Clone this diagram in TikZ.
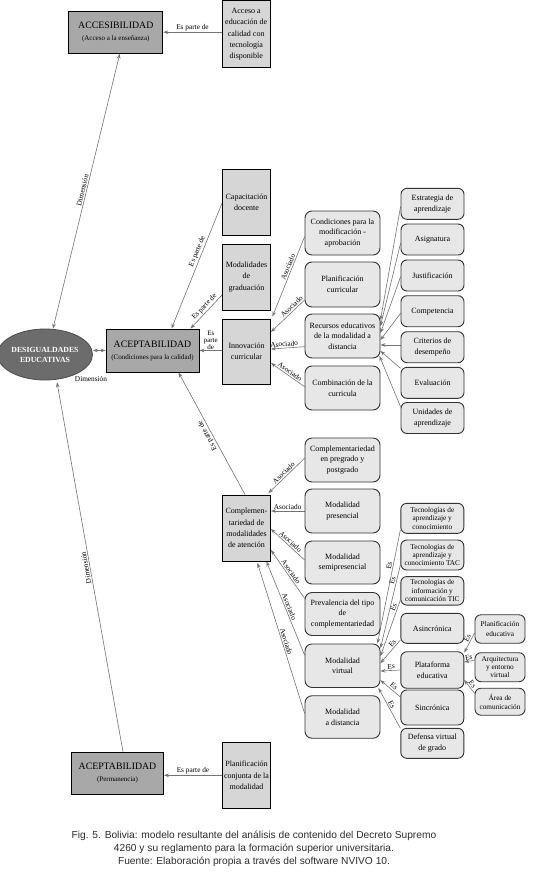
\documentclass[tikz,border=0pt]{standalone}
\usepackage{fontspec}
\setmainfont{Liberation Serif}
\newfontfamily\capfont{Liberation Sans}
\usetikzlibrary{arrows.meta,shapes.geometric,backgrounds}
\definecolor{darkbox}{HTML}{A8A8A8}
\definecolor{lightbox}{HTML}{D6D6D6}
\definecolor{roundbox}{HTML}{E7E7E7}
\definecolor{ellfill}{HTML}{6C6C6C}
\definecolor{linecol}{HTML}{747474}
\definecolor{capcol}{HTML}{2E2E2E}
\tikzset{
  sz/.style 2 args={minimum width=#1pt, minimum height=#2pt},
  dbox/.style={draw=black, line width=0.9pt, fill=darkbox, inner sep=0pt, align=center},
  lbox/.style={draw=black, line width=0.9pt, fill=lightbox, inner sep=0pt, align=center, font=\fontsize{8}{11.2}\selectfont},
  rbox/.style={draw=black!80, line width=0.9pt, fill=roundbox, rounded corners=7pt, inner sep=0pt, align=center, font=\fontsize{8}{10.6}\selectfont},
  sbox/.style={draw=black!80, line width=0.9pt, fill=roundbox, rounded corners=6pt, inner sep=0pt, align=center, font=\fontsize{7.3}{8.4}\selectfont},
  arr/.style={draw=linecol, line width=0.6pt, -{Stealth[length=5pt,width=3.6pt]}},
  darr/.style={draw=linecol, line width=0.6pt, {Stealth[length=5pt,width=3.6pt]}-{Stealth[length=5pt,width=3.6pt]}},
  lab/.style={font=\fontsize{7.3}{7.5}\selectfont, sloped, above, inner sep=1.2pt},
}
\newcommand{\bigt}[1]{{\fontsize{9.8}{12}\selectfont #1}}
\newcommand{\subt}[1]{{\fontsize{7}{8.5}\selectfont #1}}
\begin{document}
\begin{tikzpicture}[x=1pt,y=-1pt]
\useasboundingbox (0,0) rectangle (546,873);
% top
\node[dbox, sz={94}{42}] (acc) at (115.8,32.2) {\bigt{ACCESIBILIDAD}\\\subt{(Acceso a la enseñanza)}};
\node[lbox, sz={48}{67}] (accsrc) at (246.2,34.3) {Acceso a\\educación de\\calidad con\\tecnología\\disponible};
% centre
\node[ellipse, draw=black!70, fill=ellfill, line width=0.8pt, sz={80}{51}, inner sep=0pt, align=center, text=white, font=\bfseries\fontsize{7.8}{10}\selectfont] (desig) at (45,354.5) {DESIGUALDADES\\EDUCATIVAS};
\node[dbox, sz={93}{43}] (acep) at (152.5,350.5) {\bigt{ACEPTABILIDAD}\\\subt{(Condiciones para la calidad)}};
\node[font=\fontsize{7.3}{7.5}\selectfont, inner sep=0pt] (dimlab) at (91,378.5) {Dimensión};
\node[lbox, sz={48}{66}] (cap) at (246.5,202) {Capacitación\\docente};
\node[lbox, sz={48}{66}] (modgrad) at (246.5,277) {Modalidades\\de\\graduación};
\node[lbox, sz={48}{65}] (innov) at (246.5,351.5) {Innovación\\curricular};
% column 1 upper
\node[rbox, sz={75}{44}] (cond) at (342.5,233) {Condiciones para la\\modificación -\\aprobación};
\node[rbox, sz={75}{45}] (planc) at (342.5,284.5) {Planificación\\curricular};
\node[rbox, sz={75}{44}] (recur) at (342.5,336) {Recursos educativos\\de la modalidad a\\distancia};
\node[rbox, sz={75}{44}] (comb) at (342.5,388) {Combinación de la\\curricula};
% column 2 upper
\node[rbox, rounded corners=6pt, sz={63}{31}] (estr) at (432.5,203.8) {Estrategia de\\aprendizaje};
\node[rbox, rounded corners=6pt, sz={63}{31}] (asig) at (432.5,239.5) {Asignatura};
\node[rbox, rounded corners=6pt, sz={63}{31}] (just) at (432.5,275.5) {Justificación};
\node[rbox, rounded corners=6pt, sz={63}{31}] (comp) at (432.5,311.2) {Competencia};
\node[rbox, rounded corners=6pt, sz={63}{31}] (crit) at (432.5,347.2) {Criterios de\\desempeño};
\node[rbox, rounded corners=6pt, sz={63}{31}] (eval) at (432.5,382.8) {Evaluación};
\node[rbox, rounded corners=6pt, sz={63}{31}] (unid) at (432.5,418) {Unidades de\\aprendizaje};
% lower
\node[lbox, sz={48}{66}] (comple) at (246.5,528) {Complemen-\\tariedad de\\modalidades\\de atención};
\node[rbox, sz={75}{44}] (preg) at (342.5,460) {Complementariedad\\en pregrado y\\postgrado};
\node[rbox, sz={75}{44}] (presen) at (342.5,511) {Modalidad\\presencial};
\node[rbox, sz={75}{43}] (semi) at (342.5,562.5) {Modalidad\\semipresencial};
\node[rbox, sz={75}{43}] (preval) at (342.5,614) {Prevalencia del tipo\\de\\complementariedad};
\node[rbox, sz={75}{43.5}] (mvirt) at (342.5,665.7) {Modalidad\\virtual};
\node[rbox, sz={75}{42.5}] (mdist) at (342.5,717) {Modalidad\\a distancia};
% column 2 lower
\node[sbox, sz={63}{30}] (tac1) at (432.3,518.3) {Tecnologías de\\aprendizaje y\\conocimiento};
\node[sbox, sz={63}{30}] (tac2) at (432.3,555) {Tecnologías de\\aprendizaje y\\conocimiento TAC};
\node[sbox, sz={63}{28.5}] (tic) at (432.3,590.8) {Tecnologías de\\información y\\comunicación TIC};
\node[rbox, rounded corners=6pt, sz={63}{30}] (asinc) at (432.3,628.3) {Asincrónica};
\node[rbox, rounded corners=6pt, sz={63}{36.5}] (plat) at (432.3,670) {Plataforma\\educativa};
\node[rbox, rounded corners=6pt, sz={63}{35}] (sinc) at (432.3,707.5) {Sincrónica};
\node[rbox, rounded corners=6pt, sz={63}{30}] (def) at (432.3,743.3) {Defensa virtual\\de grado};
% column 3
\node[sbox, font=\fontsize{7.3}{10.5}\selectfont, sz={50}{28.5}] (planed) at (500,629) {Planificación\\educativa};
\node[sbox, sz={50}{29}] (arq) at (500,667.2) {Arquitectura\\y entorno\\virtual};
\node[sbox, font=\fontsize{7.3}{9.6}\selectfont, sz={50}{27}] (area) at (500,701.7) {Área de\\comunicación};
% bottom
\node[dbox, sz={92}{42}] (acepperm) at (117.5,773.2) {\bigt{ACEPTABILIDAD}\\\subt{(Permanencia)}};
\node[lbox, sz={48}{66}] (planconj) at (246.5,775.3) {Planificación\\conjunta de la\\modalidad};
% caption
\node[font=\capfont\fontsize{10.2}{13}\selectfont, text=capcol, align=center, inner sep=0pt] (caption) at (254,848.5) {Fig. 5. Bolivia: modelo resultante del análisis de contenido del Decreto Supremo\\4260 y su reglamento para la formación superior universitaria.\\Fuente: Elaboración propia a través del software NVIVO 10.};

\begin{pgfonlayer}{background}
\fill[white] (0,0) rectangle (546,873);
\draw[arr] (acc.east -| accsrc.west) -- node[lab]{Es parte de} (acc.east);
\draw[darr] ([xshift=8pt]desig.north) -- node[lab]{Dimensión} ([xshift=4pt]acc.south);
\draw[darr] (desig.east |- acep.west) -- (acep.west);
\draw[arr] ([yshift=-1pt]cap.west) -- node[lab,pos=0.4]{Es parte de} ([xshift=19pt]acep.north);
\draw[arr] ([yshift=-18pt]modgrad.west) -- node[lab,pos=0.45]{Es parte de} ([xshift=38pt]acep.north);
\draw[arr] (innov.west |- acep.east) -- node[above, font=\fontsize{7}{6.6}\selectfont, align=center, inner sep=1pt]{Es\\parte\\de} (acep.east);
\draw[arr] ([yshift=-3.7pt]cond.west) -- node[lab,pos=0.4]{Asociado} ([xshift=1.5pt,yshift=2pt]innov.north east);
\draw[arr] ([yshift=-15.5pt]planc.west) -- node[lab,pos=0.3]{Asociado} ([yshift=19.5pt]innov.east);
\draw[arr] ([yshift=-10.7pt]recur.west) -- node[lab,pos=0.6]{Asociado} ([yshift=2.5pt]innov.east);
\draw[arr] ([yshift=1.3pt]comb.west) -- node[lab,pos=0.5]{Asociado} ([yshift=-11.5pt]innov.east);
% column 2 upper to recursos
\draw[arr] ([yshift=-2.9pt]estr.west) -- ([yshift=16pt]recur.east);
\draw[arr] ([yshift=-3.8pt]asig.west) -- ([yshift=10pt]recur.east);
\draw[arr] ([yshift=-1.2pt]just.west) -- ([yshift=3pt]recur.east);
\draw[arr] ([yshift=-2.1pt]comp.west) -- ([yshift=-4pt]recur.east);
\draw[arr] ([yshift=2.2pt]crit.west) -- ([yshift=-9pt]recur.east);
\draw[arr] ([yshift=14.5pt]eval.west) -- ([yshift=-15pt]recur.east);
\draw[arr] ([yshift=11.3pt]unid.west) -- ([xshift=-1pt,yshift=-20pt]recur.east);
% lower
\draw[arr] ([xshift=-1.5pt]comple.north) -- node[lab,pos=0.5,allow upside down]{Es parte de} ([xshift=26pt]acep.south);
\draw[arr] ([yshift=1.7pt]preg.west) -- node[lab,pos=0.5]{Asociado} ([xshift=-2.5pt,yshift=1.5pt]comple.north east);
\draw[arr] (presen.west) -- node[lab,pos=0.5]{Asociado} (presen.west -| comple.east);
\draw[arr] ([yshift=2.5pt]semi.west) -- node[lab,pos=0.5]{Asociado} ([yshift=-1pt]comple.east);
\draw[arr] ([yshift=15.7pt]preval.west) -- node[lab,pos=0.5]{Asociado} ([yshift=-22pt]comple.east);
\draw[arr] ([yshift=10.7pt]mvirt.west) -- node[lab,pos=0.5]{Asociado} ([xshift=-4.5pt]comple.south east);
\draw[arr] ([yshift=3.7pt]mdist.west) -- node[lab,pos=0.47]{Asociado} ([xshift=-13.5pt,yshift=-1.5pt]comple.south east);
% column 2 lower to virtual
\draw[arr] ([yshift=-11.7pt]tac1.west) -- node[lab,pos=0.32]{Es} ([xshift=-3pt]mvirt.north east);
\draw[arr] ([yshift=-10pt]tac2.west) -- node[lab,pos=0.2]{Es} ([yshift=17.5pt]mvirt.east);
\draw[arr] ([yshift=-9.2pt]tic.west) -- node[lab,pos=0.15]{Es} ([yshift=9.5pt]mvirt.east);
\draw[arr] ([yshift=-11.7pt]asinc.west) -- node[lab,pos=0.25]{Es} ([yshift=2.5pt]mvirt.east);
\draw[arr] (plat.west) -- node[lab,pos=0.45]{Es} ([yshift=-5.3pt]mvirt.east);
\draw[arr] ([yshift=10.5pt]sinc.west) -- node[lab,pos=0.45]{Es} ([yshift=-14.5pt]mvirt.east);
\draw[arr] ([yshift=15pt]def.west) -- node[lab,pos=0.55]{Es} ([xshift=-2pt]mvirt.south east);
% column 3 to plataforma
\draw[arr] ([yshift=-4pt]planed.west) -- node[lab,pos=0.35]{Es} ([yshift=-1.3pt]plat.north east);
\draw[arr] ([yshift=7pt]arq.west) -- node[lab,pos=0.5]{Es} ([yshift=8pt]plat.east);
\draw[arr] ([yshift=8.5pt]area.west) -- node[lab,pos=0.5]{Es} ([yshift=-10pt]plat.east);
% bottom
\draw[arr] ([xshift=5.5pt]acepperm.north) -- node[lab,pos=0.5,allow upside down]{Dimensión} ([xshift=12pt,yshift=-2pt]desig.south);
\draw[arr] (planconj.west) -- node[lab]{Es parte de} (planconj.west -| acepperm.east);
\end{pgfonlayer}
\end{tikzpicture}
\end{document}
